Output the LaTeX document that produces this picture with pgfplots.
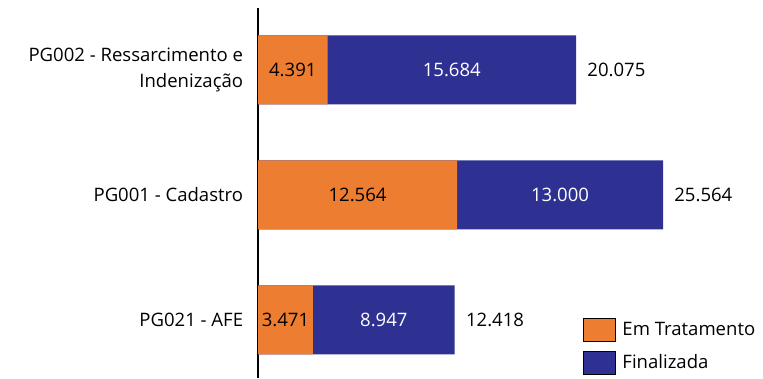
\documentclass[border=0pt]{standalone}
\usepackage{pgfplots}
\pgfplotsset{compat=1.18}
\usepackage{fontspec}
\setmainfont{Open Sans}
\definecolor{orangeC}{HTML}{ED7D31}
\definecolor{blueC}{HTML}{2E3192}
\begin{document}
\begin{tikzpicture}[x=0.75pt,y=0.75pt]
\path[use as bounding box] (0,0) rectangle (763,378);
\begin{axis}[
  at={(258*0.75pt,0pt)}, anchor=south west,
  scale only axis,
  width=303.75pt, height=277.5pt,
  xmin=0, xmax=25564,
  ymin=-0.464, ymax=2.496,
  clip=false,
  axis x line=none,
  axis y line*=left,
  y axis line style={-, line width=1.2pt},
  ytick={0,1,2},
  yticklabels={PG021 - AFE, PG001 - Cadastro, {PG002 - Ressarcimento e\\Indenização}},
  major tick length=0pt,
  yticklabel style={align=right, font=\fontsize{13.9}{20}\selectfont, inner sep=0pt, xshift=-11pt},
  legend style={at={(0.8025,0.163)}, anchor=north west, draw=none, fill=none,
    font=\fontsize{13.9}{15}\selectfont, row sep=6.5pt, inner sep=0pt,
    nodes={inner sep=0pt}},
  legend cell align=left,
  legend image code/.code={\fill[#1] (0pt,-8.8pt) rectangle (24pt,8.8pt);},
]
\addplot[xbar, fill=blueC, draw=none, bar width=0.552, bar shift=0pt,
  point meta=x, nodes near coords,
  nodes near coords style={anchor=west, xshift=5pt, black, font=\fontsize{13.9}{15}\selectfont,
    /pgf/number format/.cd, fixed, 1000 sep={.}, assume math mode=true},
  forget plot]
  coordinates {(12418,0) (25564,1) (20075,2)};
\addplot[xbar, fill=orangeC, draw=none, bar width=0.552, bar shift=0pt, forget plot]
  coordinates {(3471,0) (12564,1) (4391,2)};
\addplot[draw=none, mark=none, point meta=explicit symbolic, nodes near coords,
  nodes near coords style={anchor=center, black, font=\fontsize{13.9}{15}\selectfont}, forget plot]
  table[meta=lab] {
x y lab
1735.5 0 3.471
6282 1 12.564
2195.5 2 4.391
};
\addplot[draw=none, mark=none, point meta=explicit symbolic, nodes near coords,
  nodes near coords style={anchor=center, white, font=\fontsize{13.9}{15}\selectfont}, forget plot]
  table[meta=lab] {
x y lab
7944.5 0 8.947
19064 1 13.000
12233 2 15.684
};
\addlegendimage{fill=orangeC}
\addlegendentry{\hspace{5pt}Em Tratamento}
\addlegendimage{fill=blueC}
\addlegendentry{\hspace{5pt}Finalizada}
\end{axis}
\end{tikzpicture}
\end{document}
